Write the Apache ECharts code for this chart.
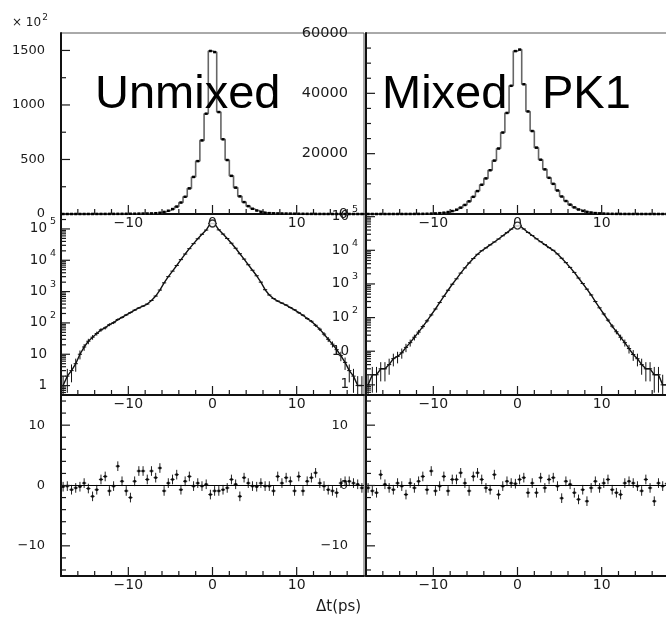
<!DOCTYPE html>
<html>
<head>
<meta charset="utf-8">
<script src="https://cdn.jsdelivr.net/npm/echarts@6.0.0/dist/echarts.min.js"></script>
<style>
  html, body { margin: 0; padding: 0; background: #fff; }
  #c { width: 666px; height: 618px; }
</style>
</head>
<body>
<div id="c"></div>
<script>
// Δt bin centres (ps), 0.5 ps bins over [-18, 18]
const dtBins = [-17.75,-17.25,-16.75,-16.25,-15.75,-15.25,-14.75,-14.25,-13.75,-13.25,-12.75,-12.25,
  -11.75,-11.25,-10.75,-10.25,-9.75,-9.25,-8.75,-8.25,-7.75,-7.25,-6.75,-6.25,-5.75,-5.25,-4.75,-4.25,
  -3.75,-3.25,-2.75,-2.25,-1.75,-1.25,-0.75,-0.25,0.25,0.75,1.25,1.75,2.25,2.75,3.25,3.75,4.25,4.75,
  5.25,5.75,6.25,6.75,7.25,7.75,8.25,8.75,9.25,9.75,10.25,10.75,11.25,11.75,12.25,12.75,13.25,13.75,
  14.25,14.75,15.25,15.75,16.25,16.75,17.25,17.75];

// events per bin, unmixed sample
const unmixedCounts = [1,2,3,5,10,17,26,35,46,60,70,88,102,128,150,180,214,256,300,345,400,520,720,1120,
  1900,3000,4500,6800,10500,15800,23500,34000,48500,67500,92000,149500,
  148500,93500,68500,49500,35000,24200,16200,10900,7200,4800,3200,2000,1150,780,600,500,430,372,
  310,262,212,176,138,113,84,63,44,30,21,14,9,5.5,3,2,1,1];

// events per bin, mixed sample
const mixedCounts = [1,2,2,3,3,4,6,7,9,13,18,26,37,54,80,120,180,280,430,650,980,1420,2100,3000,
  4200,5700,7600,9700,11800,14500,17700,21700,27000,33500,42500,54000,
  54500,43000,34000,27500,22000,18000,14800,12000,10000,7800,5800,4300,3100,2200,1500,1030,700,470,
  300,195,128,84,56,38,26,18,12,8,6,4,3,3,2,2,1,1];

// fit residuals per bin
const unmixedPull = [-0.2,-0.1,-0.7,-0.4,-0.2,0.4,-0.5,-1.8,-0.7,1.0,1.5,-0.9,-0.1,3.2,0.7,-0.9,-2.0,0.7,
  2.4,2.4,1.0,2.4,1.3,2.9,-0.9,0.4,1.0,1.8,-0.7,0.7,1.5,-0.1,0.4,-0.1,0.2,-1.5,
  -0.9,-0.9,-0.7,-0.4,1.0,0.2,-1.8,1.3,0.4,-0.1,-0.2,0.4,-0.1,-0.1,-0.9,1.5,0.4,1.3,
  0.7,-0.9,1.5,-0.9,0.7,1.3,2.1,0.4,-0.1,-0.7,-0.9,-1.2,0.4,0.7,0.7,0.4,0.2,-0.4];

const mixedPull = [-0.4,-0.9,-1.2,1.8,0.2,-0.4,-0.7,0.4,-0.1,-1.5,0.4,-0.4,0.7,1.5,-0.7,2.4,-0.9,-0.1,
  1.5,-0.9,1.0,1.0,2.1,0.4,-0.9,1.5,2.1,1.0,-0.4,-0.7,1.8,-1.5,-0.1,0.7,0.4,0.3,
  1.0,1.3,-1.2,0.4,-1.2,1.3,-0.4,1.0,1.3,-0.1,-2.1,0.7,0.2,-1.2,-2.3,-0.7,-2.6,-0.4,
  0.7,-0.4,0.4,1.0,-0.7,-1.2,-1.5,0.4,0.7,0.4,-0.1,-0.9,1.0,-0.4,-2.6,0.4,-0.1,0.3];

const pullError = 0.8;
const halfBin = 0.25;

const FONT = '"DejaVu Sans", sans-serif';
const INK = '#1a1a1a';
const DT_MIN = -18, DT_MAX = 18;
const yMins = [0, 0, 0.5, 0.5, -15, -15];

const zip = (xs, ys) => xs.map((x, i) => [x, ys[i]]);
const signed = v => (v < 0 ? '\u2212' + Math.abs(v) : String(v));

const cells = [
  { left: 61, top: 33 }, { left: 366, top: 33 },
  { left: 61, top: 214 }, { left: 366, top: 214 },
  { left: 61, top: 395 }, { left: 366, top: 395 }
];

const grid = cells.map(c => ({
  left: c.left, top: c.top, width: 303, height: 181,
  show: true, borderColor: '#555', borderWidth: 1,
  containLabel: false, outerBoundsMode: 'none'
}));

const axisLine = { show: true, onZero: false, lineStyle: { color: '#111', width: 2 } };

const xAxis = cells.map((c, i) => ({
  gridIndex: i, type: 'value', min: DT_MIN, max: DT_MAX, interval: 2,
  axisLine, axisTick: { show: false }, splitLine: { show: false },
  axisLabel: {
    margin: 2, fontFamily: FONT, fontSize: 14, color: INK,
    formatter: v => (v % 10 === 0 ? signed(v) : '')
  }
}));

const supRich = {
  b: { fontFamily: FONT, fontSize: 13.5, color: INK, lineHeight: 14, verticalAlign: 'middle' },
  s: { fontFamily: FONT, fontSize: 9.5, color: INK, lineHeight: 10, width: 9, padding: [0, 0, 14, 0], verticalAlign: 'middle' }
};
const logLabel = v => {
  const l = Math.log10(v), e = Math.round(l);
  if (Math.abs(l - e) > 1e-6 || e < 0) return '';
  if (e === 0) return '{b|1}{s| }';
  if (e === 1) return '{b|10}{s| }';
  return '{b|10}{s|' + e + '}';
};

const baseY = { axisLine, axisTick: { show: false }, splitLine: { show: false }, minorTick: { show: false } };
const yAxis = [
  Object.assign({ gridIndex: 0, type: 'value', min: 0, max: 166000, interval: 50000,
    axisLabel: { margin: 16, fontFamily: FONT, fontSize: 13, color: INK,
      formatter: v => (v % 50000 === 0 ? String(v / 100) : '') } }, baseY),
  Object.assign({ gridIndex: 1, type: 'value', min: 0, max: 60000, interval: 20000,
    axisLabel: { margin: 18, fontFamily: FONT, fontSize: 14.5, color: INK,
      formatter: v => (v % 20000 === 0 ? String(v) : '') } }, baseY),
  Object.assign({ gridIndex: 2, type: 'log', logBase: 10, min: 0.5, max: 3e5,
    axisLabel: { margin: 5, formatter: logLabel, rich: supRich } }, baseY),
  Object.assign({ gridIndex: 3, type: 'log', logBase: 10, min: 0.5, max: 1.2e5,
    axisLabel: { margin: 8, formatter: logLabel, rich: supRich } }, baseY),
  Object.assign({ gridIndex: 4, type: 'value', min: -15, max: 15, interval: 5,
    axisLabel: { margin: 16, fontFamily: FONT, fontSize: 13, color: INK,
      formatter: v => (v % 10 === 0 ? signed(v) : '') } }, baseY),
  Object.assign({ gridIndex: 5, type: 'value', min: -15, max: 15, interval: 5,
    axisLabel: { margin: 18, fontFamily: FONT, fontSize: 13, color: INK,
      formatter: v => (v % 10 === 0 ? signed(v) : '') } }, baseY)
];

// inward-pointing tick marks (major / minor)
const MAJOR = 9, MINOR = 5;
const xTicks = [];
for (let v = -16; v <= 16; v += 2) xTicks.push([v, v % 10 === 0 ? MAJOR : MINOR]);
const linTicks = (from, to, step, major) => {
  const out = [];
  for (let v = from; v <= to; v += step) out.push([v, v % major === 0 ? MAJOR : MINOR]);
  return out;
};
const logTicks = (lo, hi) => {
  const out = [];
  for (let e = -1; e <= 6; e++) for (let m = 1; m <= 9; m++) {
    const v = m * Math.pow(10, e);
    if (v > lo && v < hi) out.push([v, m === 1 ? MAJOR : MINOR]);
  }
  return out;
};
const yTicks = [
  linTicks(25000, 150000, 25000, 50000),
  linTicks(5000, 55000, 5000, 20000),
  logTicks(0.5, 3e5),
  logTicks(0.5, 1.2e5),
  linTicks(-14, 14, 2, 10),
  linTicks(-14, 14, 2, 10)
];

function tickSeries(gi, dim, list) {
  return {
    type: 'custom', xAxisIndex: gi, yAxisIndex: gi, silent: true, z: 8, clip: false,
    data: list,
    renderItem(params, api) {
      const v = api.value(0), len = api.value(1);
      const p = dim === 'x' ? api.coord([v, yMins[gi]]) : api.coord([DT_MIN, v]);
      const shape = dim === 'x'
        ? { x1: p[0], y1: p[1], x2: p[0], y2: p[1] - len }
        : { x1: p[0], y1: p[1], x2: p[0] + len, y2: p[1] };
      return { type: 'line', shape, style: { stroke: INK, lineWidth: 1.2 } };
    }
  };
}

function countBars(params, api) {
  const t = api.value(0), v = api.value(1);
  const s = Math.sqrt(v);
  const a = api.coord([t, Math.max(v - s, 0.5)]), b = api.coord([t, v + s]);
  const l = api.coord([t - halfBin, v]), r = api.coord([t + halfBin, v]);
  return { type: 'group', children: [
    { type: 'line', shape: { x1: a[0], y1: a[1], x2: b[0], y2: b[1] }, style: { stroke: '#111', lineWidth: 1 } },
    { type: 'line', shape: { x1: l[0], y1: l[1], x2: r[0], y2: r[1] }, style: { stroke: '#111', lineWidth: 1 } }
  ] };
}

function pullBars(params, api) {
  const t = api.value(0), v = api.value(1);
  const a = api.coord([t, v - pullError]), b = api.coord([t, v + pullError]);
  const l = api.coord([t - halfBin, v]), r = api.coord([t + halfBin, v]);
  return { type: 'group', children: [
    { type: 'line', shape: { x1: a[0], y1: a[1], x2: b[0], y2: b[1] }, style: { stroke: '#222', lineWidth: 1 } },
    { type: 'line', shape: { x1: l[0], y1: l[1], x2: r[0], y2: r[1] }, style: { stroke: '#222', lineWidth: 1 } }
  ] };
}

const series = [];
[unmixedCounts, mixedCounts].forEach((counts, k) => {
  const data = zip(dtBins, counts);
  // linear histogram
  series.push({
    type: 'line', xAxisIndex: k, yAxisIndex: k, step: 'middle', data,
    symbol: 'rect', symbolSize: [3, 2.5], showSymbol: true,
    itemStyle: { color: '#000' }, lineStyle: { color: '#666', width: 1.6 }, silent: true
  });
  // log view: fit line, points with errors, peak marker
  const gi = 2 + k;
  series.push({
    type: 'line', xAxisIndex: gi, yAxisIndex: gi, data, symbol: 'none',
    lineStyle: { color: '#111', width: 1.4 }, silent: true, z: 3
  });
  series.push({
    type: 'custom', xAxisIndex: gi, yAxisIndex: gi, data, renderItem: countBars,
    clip: true, silent: true, z: 4
  });
  series.push({
    type: 'scatter', xAxisIndex: gi, yAxisIndex: gi, data: [[0, Math.max(...counts)]],
    symbol: 'circle', symbolSize: 7, silent: true, z: 5,
    itemStyle: { color: '#fff', borderColor: '#000', borderWidth: 1.3 }
  });
});
[unmixedPull, mixedPull].forEach((pull, k) => {
  const gi = 4 + k;
  const data = zip(dtBins, pull);
  series.push({
    type: 'custom', xAxisIndex: gi, yAxisIndex: gi, data, renderItem: pullBars,
    clip: true, silent: true, z: 4
  });
  series.push({
    type: 'scatter', xAxisIndex: gi, yAxisIndex: gi, data,
    symbol: 'rect', symbolSize: 2.5, silent: true, z: 5, itemStyle: { color: '#000' },
    markLine: { silent: true, symbol: 'none', label: { show: false },
      lineStyle: { color: '#000', width: 1.2, type: 'solid' }, data: [{ yAxis: 0 }] }
  });
});
for (let gi = 0; gi < 6; gi++) {
  series.push(tickSeries(gi, 'x', xTicks));
  series.push(tickSeries(gi, 'y', yTicks[gi]));
}

const titleFont = '47px "Liberation Sans", Arial, sans-serif';
const graphic = [
  { type: 'text', left: 95, top: 72, z: 20, style: { text: 'Unmixed', font: titleFont, fill: '#000' } },
  { type: 'text', left: 382, top: 72, z: 20, style: { text: 'Mixed', font: titleFont, fill: '#000' } },
  { type: 'text', left: 542, top: 72, z: 20, style: { text: 'PK1', font: titleFont, fill: '#000' } },
  { type: 'text', left: 12, top: 13, z: 20, style: {
      text: '{a|\u00d7 10}{s|2}',
      rich: {
        a: { fontFamily: FONT, fontSize: 12, fill: INK, lineHeight: 13, verticalAlign: 'middle' },
        s: { fontFamily: FONT, fontSize: 9, fill: INK, lineHeight: 9, padding: [0, 0, 10, 1], verticalAlign: 'middle' }
      } } },
  { type: 'text', left: 316, top: 600, z: 20, style: { text: '\u0394t(ps)', font: '15px "DejaVu Sans", sans-serif', fill: INK } }
];

const chart = echarts.init(document.getElementById('c'), null, { renderer: 'canvas' });
chart.setOption({
  animation: false,
  backgroundColor: '#fff',
  grid, xAxis, yAxis, series, graphic
});
</script>
</body>
</html>
